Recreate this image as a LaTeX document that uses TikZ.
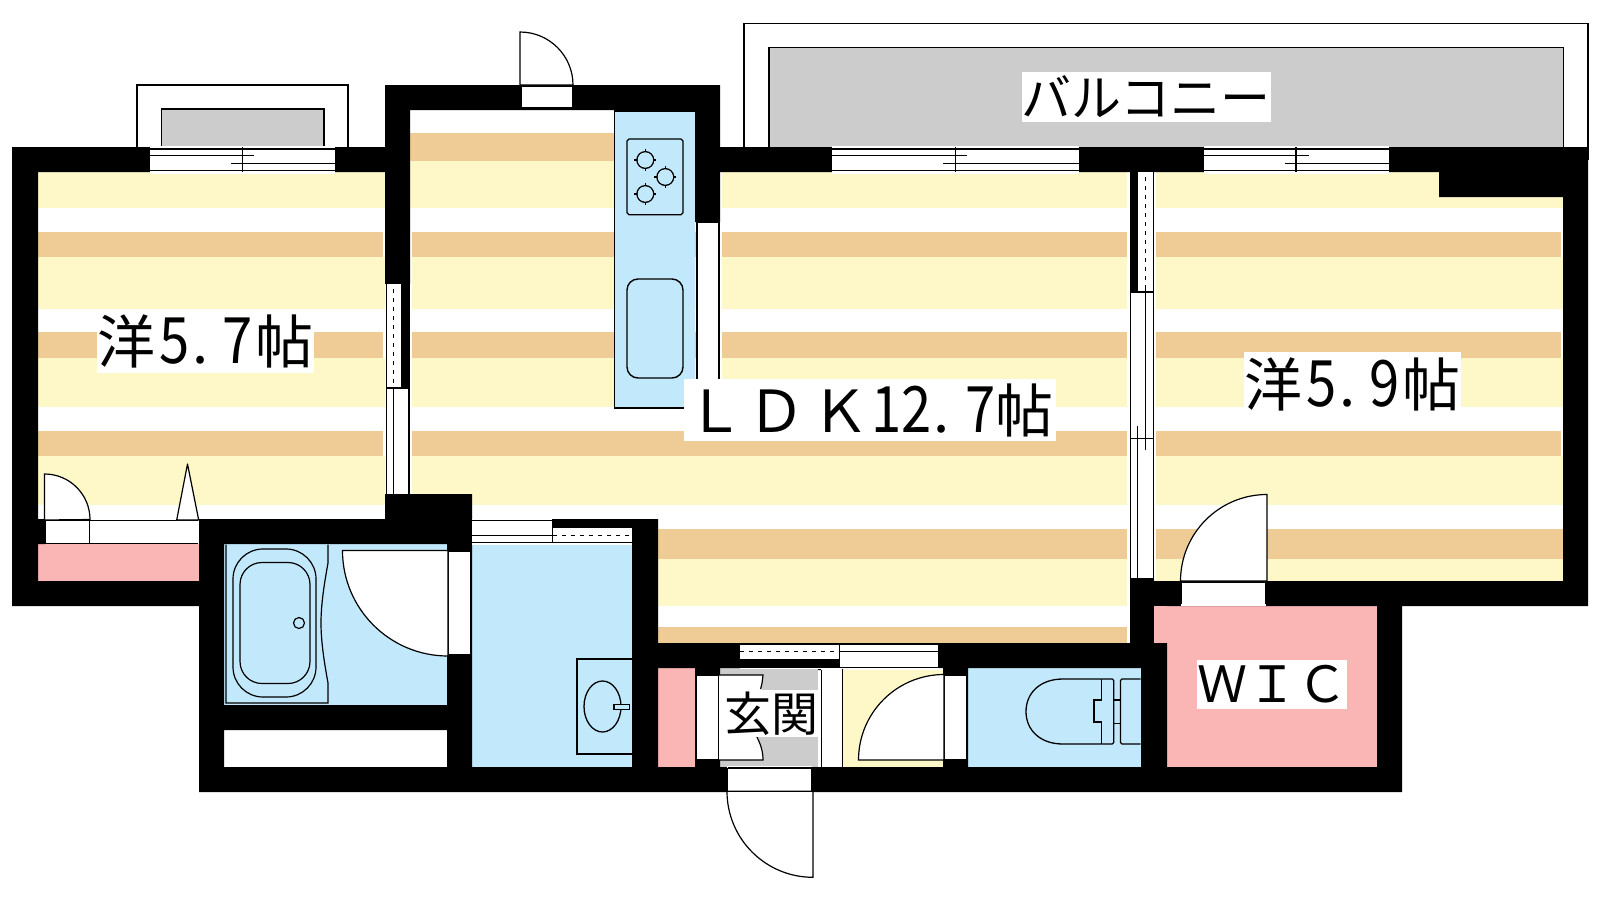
\documentclass[tikz,border=0pt]{standalone}
\usepackage{fontspec}
\setmainfont{Noto Sans CJK JP}
\newfontfamily\dgfont[FakeStretch=0.85]{Noto Sans CJK JP}
\definecolor{tan}{HTML}{EFCC96}
\definecolor{yel}{HTML}{FEF8C8}
\definecolor{sky}{HTML}{C2E9FB}
\definecolor{rose}{HTML}{FAB5B5}
\definecolor{gry}{HTML}{CCCCCC}
\tikzset{
  ln/.style={draw=black,line width=1.2pt},
  panel/.style={fill=white,draw=black,line width=1.2pt},
  dsh/.style={draw=black,line width=1.4pt,dash pattern=on 4pt off 5pt},
  lab/.style={fill=white,inner sep=0pt,outer sep=0pt,text=black,align=center}
}
\newcommand{\R}[5]{\fill[#1] (#2,#3) rectangle (#4,#5);}
\newcommand{\Bands}[3]{% x1 x2 xtan
  \R{tan}{#1}{232}{#3}{257}\R{tan}{#1}{332}{#3}{358}\R{tan}{#1}{431}{#3}{456}
  \R{yel}{#1}{257}{#2}{309}\R{yel}{#1}{358}{#2}{407}\R{yel}{#1}{456}{#2}{505}}
\newcommand{\Win}[5]{% x1 xc x2 xa xb
  \fill[white] (#1,146) rectangle (#3,174);
  \draw[ln] (#1,149)--(#3,149) (#1,170.7)--(#3,170.7) (#1,155.7)--(#4,155.7) (#5,163.7)--(#3,163.7) (#2,147)--(#2,172);}
\newcommand{\Dg}[1]{{\dgfont\fontsize{64}{64}\selectfont #1}}
\newcommand{\Burner}[2]{\draw[ln,line width=1.5pt] (#1,#2) circle[radius=8.3pt];
  \draw[ln] (#1-11,#2)--(#1+11,#2) (#1,#2-11)--(#1,#2+11);
  \fill[sky] (#1,#2) circle[radius=7.6pt];}
\begin{document}
\begin{tikzpicture}[x=1pt,y=-1pt]
\useasboundingbox (0,0) rectangle (1600,900);
\fill[white] (0,0) rectangle (1600,900);
% balconies
\draw[ln,fill=white] (137,147)--(137,85)--(348,85)--(348,147);
\draw[ln,fill=gry] (161.5,147)--(161.5,109)--(324,109)--(324,147);
\draw[ln,fill=white] (744,147)--(744,23.5)--(1588,23.5)--(1588,160);
\draw[ln,fill=gry] (769,147)--(769,47.7)--(1563.7,47.7)--(1563.7,147);
% left room floor
\R{yel}{38}{172}{385}{208}\Bands{38}{385}{383}
% LDK floor
\R{tan}{410}{133}{614}{161}\R{yel}{410}{161}{614}{208}
\R{yel}{722}{172}{1128}{208}
\Bands{412}{1127}{1127}
\R{white}{696}{222}{722}{400}
\R{tan}{658}{529}{1127}{559}\R{yel}{658}{559}{1127}{606}\R{tan}{658}{627}{1127}{643}
% right room floor
\R{yel}{1156}{172}{1563}{208}\Bands{1156}{1563}{1561}
\R{tan}{1156}{529}{1563}{559}\R{yel}{1156}{559}{1563}{581}
\R{white}{1127}{172}{1156}{581}
% wet rooms and storage
\R{sky}{614}{110}{695}{408}
\R{sky}{224}{544}{447}{705}
\R{sky}{472}{545}{633}{767}
\R{sky}{968}{668}{1141}{767}
\R{rose}{38}{544}{199}{581}
\R{rose}{658}{668}{695}{767}
\R{rose}{1154}{606}{1377}{767}
\R{gry}{720}{668}{818}{767}
\R{yel}{843}{670}{943}{767}
\R{white}{224}{730}{447}{767}
% walls
\fill[black]
 (12,147) rectangle (38,606)
 (12,147) rectangle (410,172)
 (385,85) rectangle (410,284)
 (385,85) rectangle (720,110)
 (695,85) rectangle (720,222)
 (695,147) rectangle (1588,172)
 (1439,172) rectangle (1588,197)
 (1563,147) rectangle (1588,606)
 (12,581) rectangle (199,606)
 (199,519) rectangle (224,792)
 (199,519) rectangle (472,544)
 (385,494) rectangle (472,519)
 (447,519) rectangle (472,767)
 (224,705) rectangle (447,730)
 (199,767) rectangle (1402,792)
 (632,519) rectangle (658,767)
 (658,643) rectangle (1167,668)
 (1141,643) rectangle (1167,767)
 (1130,579) rectangle (1154,643)
 (1154,581) rectangle (1588,606)
 (1377,581) rectangle (1402,792)
 (943,668) rectangle (968,767)
 (695,668) rectangle (720,767)
 (38,519) rectangle (45,544)
 (818,668) rectangle (843,670);
\R{rose}{1154}{606}{1167}{643}
% windows
\Win{150}{242.5}{335}{254}{231}
\Win{832}{955.7}{1079}{967}{943}
\Win{1204}{1296}{1389}{1309}{1285}
% sliding door left room / LDK
\fill[white] (386,284) rectangle (401,388);
\fill[black] (401,284) rectangle (410,388);
\fill[white] (385,388) rectangle (410,494);
\draw[ln] (386.3,284)--(386.3,494) (409,388)--(409,494) (393.5,388)--(393.5,494) (386,388)--(409,388);
\draw[dsh] (393.5,289)--(393.5,388);
% sliding door LDK / right room
\fill[black] (1130,172) rectangle (1138,292);
\fill[white] (1138,172) rectangle (1154,292);
\fill[white] (1130,292) rectangle (1154,579);
\draw[ln] (1153.6,172)--(1153.6,579) (1130.3,292)--(1130.3,579) (1130,292)--(1154,292) (1130,438.6)--(1154,438.6)
  (1145.5,288)--(1145.5,450) (1137.3,426)--(1137.3,579) (1130,578.5)--(1154,578.5);
\draw[dsh] (1145.5,177)--(1145.5,288);
% sliding door washroom
\fill[black] (552,519) rectangle (632,528);
\fill[white] (472,519) rectangle (552,545);
\fill[white] (552,528) rectangle (632,545);
\draw[ln] (472,520.3)--(552,520.3) (472,535.5)--(552,535.5) (472,542.3)--(632,542.3) (552.3,520)--(552.3,543);
\draw[dsh] (553,535.5)--(632,535.5);
% sliding door entry top
\fill[white] (740,644) rectangle (839,659);
\fill[white] (839,644) rectangle (939,667);
\fill[white] (740,667) rectangle (939,668.5);
\draw[ln] (740,644.8)--(939,644.8) (839,651.5)--(939,651.5) (839.3,645)--(839.3,667) (740,667.5)--(939,667.5) (939,645)--(939,667);
\draw[dsh] (740,651.5)--(839,651.5);
% closet strip left
\fill[white] (45,520) rectangle (199,543);
\draw[ln] (45,520.3)--(198,520.3) (45,543.3)--(198,543.3);
\draw[panel] (45,520.3) rectangle (89.5,543.3);
\filldraw[panel] (44.5,520) -- (44.5,474) arc[start angle=90,end angle=0,radius=45.5pt] -- cycle;
\filldraw[panel,line join=round] (176.7,520)--(187.5,464)--(198.7,520)--cycle;
% doors
\draw[panel] (521,86.7) rectangle (572.7,108);
\filldraw[panel] (520,85)--(520,32) arc[start angle=90,end angle=0,radius=53pt]--cycle;
\fill[white] (448,551) rectangle (471,655.5);
\draw[ln] (448.5,551)--(448.5,655) (470.5,551)--(470.5,655) (448,551)--(471,551) (448,655)--(471,655);
\filldraw[panel] (448,550.5)--(342.5,550.5) arc[start angle=180,end angle=270,radius=105.5pt]--cycle;
\fill[white] (945,675) rectangle (967,760);
\draw[ln] (945,675)--(967,675) (945,760)--(967,760) (967,675)--(967,760);
\filldraw[panel] (944,760)--(858.5,760) arc[start angle=180,end angle=90,radius=85.5pt]--cycle;
\draw[panel] (1181,582) rectangle (1266,604.3);
\fill[white] (1181,604.3) rectangle (1266,606);
\filldraw[panel] (1267,581)--(1180.5,581) arc[start angle=180,end angle=90,radius=86.5pt]--cycle;
\fill[white] (727,766) rectangle (812,791);
\draw[ln] (727.5,768)--(812,768)--(812,791) (727.5,768)--(727.5,791);
\filldraw[panel] (813,791.3)--(727,791.3) arc[start angle=180,end angle=270,radius=86pt]--cycle;
% foyer
\R{white}{696}{675}{720}{760}
\R{white}{821}{668}{843}{767}
\draw[ln] (696.3,675)--(696.3,760) (696,675)--(720,675) (696,760)--(720,760) (718.5,675)--(718.5,760) (842.8,669)--(842.8,767) (821.5,670)--(821.5,767);
\fill[white] (719,675) rectangle (757,760);
\fill[white] (757,735) .. controls (760,742) and (763,750) .. (763,760) -- (757,760) -- cycle;
\fill[white] (757,675) -- (763,675) -- (761,692) -- (757,700) -- cycle;
\draw[ln] (719,675)--(763,675) .. controls (762.5,680) and (762,685) .. (760.5,689);
\draw[ln] (719,760)--(763,760) .. controls (763,750) and (760,743) .. (756,735);
% kitchen
\draw[ln] (695,111)--(614.5,111)--(614.5,408)--(695,408);
\draw[ln,line width=1.3pt] (629,139)--(681,139)--(683,141)--(683,212.7)--(681,214.7)--(629,214.7)--(627,212.7)--(627,141)--cycle;
\Burner{645.3}{160}\Burner{665.3}{177}\Burner{645.3}{194}
\draw[ln,line width=1.4pt,rounded corners=11pt] (627,279) rectangle (683,378);
\draw[ln] (697,222.5)--(697,400) (719,222.5)--(719,400) (696,222.5)--(720,222.5);
% bath
\draw[ln] (328,544.5)--(328,563) .. controls (324,585) and (321,605) .. (321,623) .. controls (321,641) and (324,661) .. (328,683)--(328,703)--(226,703)--(226,544.5);
\draw[ln,rounded corners=30pt] (233,549) rectangle (316,697);
\draw[ln,rounded corners=22pt] (240,562.5) rectangle (310,683.5);
\draw[ln] (299,623) circle[radius=5.5pt];
% vanity
\draw[ln] (632.5,659)--(577,659)--(577,754)--(632.5,754);
\draw[ln,line width=1.3pt] (602.5,706.5) ellipse[x radius=18.5pt,y radius=25.5pt];
\draw[ln,fill=sky] (614,704.7) rectangle (629.5,709.3);
% toilet
\draw[ln,line width=1.3pt] (1101.7,679)--(1063,679) .. controls (1040,679) and (1026,693) .. (1026,711.5) .. controls (1026,730) and (1040,744) .. (1063,744)--(1101.7,744);
\draw[ln,line width=1.3pt,rounded corners=1.5pt] (1101.7,679)--(1113.7,679)--(1113.7,744)--(1101.7,744);
\draw[ln,line width=1.3pt] (1101.7,679)--(1101.7,700)--(1094,700)--(1094,722)--(1101.7,722)--(1101.7,744);
\draw[ln] (1113.7,700)--(1120.5,700) (1113.7,723.5)--(1120.5,723.5) (1120.5,700)--(1120.5,723.5);
\draw[ln,rounded corners=1.5pt] (1140.5,679)--(1120.5,679)--(1120.5,744)--(1140.5,744);
% labels
\node[lab,minimum width=248pt,minimum height=50pt,font=\fontsize{50}{50}\selectfont] (balcony) at (1146,97) {バルコニー};
\node[lab,minimum width=217pt,minimum height=64pt,font=\fontsize{58}{58}\selectfont] (west) at (205.5,341) {\raisebox{-2pt}{洋\hspace{4pt}\Dg{5}\hspace{3pt}.\hspace{13pt}\Dg{7}\hspace{3pt}帖}};
\node[lab,minimum width=217pt,minimum height=64pt,font=\fontsize{58}{58}\selectfont] (east) at (1352.5,384) {\raisebox{2pt}{洋\hspace{4pt}\Dg{5}\hspace{3pt}.\hspace{13pt}\Dg{9}\hspace{3pt}帖}};
\node[lab,minimum width=372pt,minimum height=62pt,font=\fontsize{58}{58}\selectfont] (ldk) at (870,410) {Ｌ\hspace{3pt}Ｄ\hspace{6pt}Ｋ\hspace{2pt}\Dg{12}\hspace{1pt}.\hspace{16pt}\Dg{7}帖};
\node[lab,minimum width=148pt,minimum height=49pt,font=\fontsize{50}{50}\selectfont] (wic) at (1272,684.5) {ＷＩＣ};
\node[lab,minimum width=93pt,minimum height=47pt,font=\fontsize{47}{47}\selectfont] (entry) at (771.5,713.5) {玄関};
\end{tikzpicture}
\end{document}
